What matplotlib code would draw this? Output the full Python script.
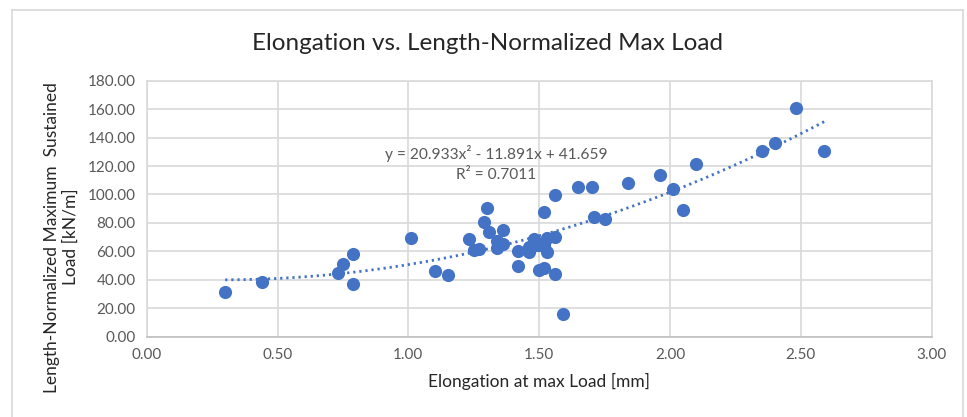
import numpy as np
import matplotlib
matplotlib.use('Agg')
import matplotlib.pyplot as plt
from matplotlib.lines import Line2D

# data
elongation = [0.30, 0.44, 0.73, 0.75, 0.79, 0.79, 1.01, 1.10, 1.15, 1.23,
              1.25, 1.27, 1.30, 1.29, 1.31, 1.36, 1.34, 1.36, 1.34, 1.42,
              1.42, 1.46, 1.46, 1.48, 1.49, 1.50, 1.50, 1.52, 1.52, 1.53,
              1.52, 1.53, 1.56, 1.56, 1.59, 1.56, 1.65, 1.70, 1.71, 1.75,
              1.84, 1.96, 2.01, 2.05, 2.10, 2.35, 2.40, 2.48, 2.59]
load = [31.2, 38.2, 45.0, 50.9, 57.9, 37.0, 69.2, 46.4, 43.1, 68.6,
        61.2, 62.0, 90.8, 80.9, 73.7, 75.0, 67.0, 65.2, 62.4, 60.5,
        49.8, 63.3, 59.8, 68.8, 64.5, 64.5, 46.6, 48.4, 87.6, 69.4,
        64.3, 59.4, 70.3, 44.0, 16.0, 99.5, 105.3, 105.3, 84.1, 82.8,
        108.3, 113.5, 103.9, 88.8, 121.6, 130.8, 136.4, 160.6, 130.8]

# polynomial trendline as printed on the chart
trend_coef = [20.933, -11.891, 41.659]
trend_label = 'y = 20.933x² - 11.891x + 41.659'
r2_label = 'R² = 0.7011'

x_ticks = [0.0, 0.5, 1.0, 1.5, 2.0, 2.5, 3.0]
y_ticks = [0, 20, 40, 60, 80, 100, 120, 140, 160, 180]

blue = '#4472C4'
grey_text = '#595959'

plt.rcParams['font.family'] = ['Lato', 'DejaVu Sans']

fig = plt.figure(figsize=(9.67, 4.17), dpi=100)
ax = fig.add_axes([0.1517, 0.1926, 0.8118, 0.6139])

# chart border (Excel chart area)
W, H = 967.0, 417.0
for xs, ys in [([12 / W, 12 / W], [0, 1 - 10 / H]),
               ([12 / W, 963 / W], [1 - 10 / H, 1 - 10 / H]),
               ([963 / W, 963 / W], [0, 1 - 10 / H])]:
    fig.add_artist(Line2D(xs, ys, color='#d9d9d9', lw=1.2, transform=fig.transFigure))

ax.scatter(elongation, load, s=90, color=blue, zorder=3, linewidths=0)

xt = np.linspace(min(elongation), max(elongation), 200)
ax.plot(xt, np.polyval(trend_coef, xt), color=blue, lw=2,
        linestyle=(0, (0.8, 1.4)), zorder=2)

ax.text(1.335, 128.5, trend_label, ha='center', va='center', fontsize=11.2, color=grey_text)
ax.text(1.335, 113.5, r2_label, ha='center', va='center', fontsize=11.2, color=grey_text)

ax.set_xlim(0, 3)
ax.set_ylim(0, 180)
ax.set_xticks(x_ticks)
ax.set_yticks(y_ticks)
ax.set_xticklabels(['%.2f' % v for v in x_ticks])
ax.set_yticklabels(['%.2f' % v for v in y_ticks])
ax.grid(True, color='#d9d9d9', lw=1.2)
ax.set_axisbelow(True)
for s in ['top', 'right', 'left']:
    ax.spines[s].set_color('#d9d9d9')
ax.spines['bottom'].set_color('#bfbfbf')
for s in ax.spines.values():
    s.set_linewidth(1.2)
ax.tick_params(length=0, labelsize=11, labelcolor=grey_text, pad=8)

ax.set_xlabel('Elongation at max Load [mm]', fontsize=12.5, color='#262626', labelpad=8)
ax.set_ylabel('Length-Normalized Maximum  Sustained\nLoad [kN/m]', fontsize=12.5,
              color='#262626')
ax.yaxis.set_label_coords(-0.086, 0.389)

fig.text(488 / W, 1 - 43 / H, 'Elongation vs. Length-Normalized Max Load',
         ha='center', va='center', fontsize=17.5, color='#262626')

fig.savefig('out.png', dpi=100)
